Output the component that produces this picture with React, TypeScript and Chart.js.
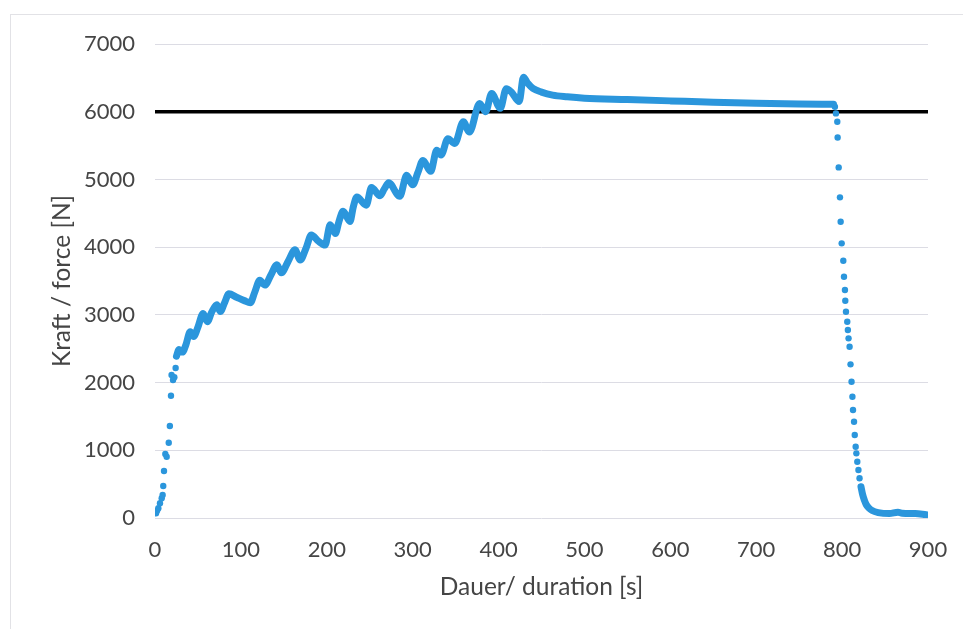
import React, { useEffect, useRef } from "react";
import { Chart, registerables } from "chart.js";

Chart.register(...registerables);

// Isolated samples during the fast load-up at the start
const startTime = [1.2, 2.5, 3.9, 5.8, 7.8, 8.9, 9.6, 10.5, 12, 13.6, 16, 17.3, 18.6, 19.3, 21, 22.5, 24];
const startForce = [69, 110, 143, 217, 291, 340, 473, 694, 945, 905, 1112, 1358, 1806, 2112, 2038, 2080, 2215];

// Continuous (densely sampled) loading / holding phase
const holdTime = [
  25, 28, 32, 36, 41, 45, 50, 56, 61, 66, 72, 76, 81, 86, 95, 104, 111, 116, 122, 128,
  135, 142, 147, 155, 163, 169, 176, 182, 190, 198, 204, 210, 214, 219, 227, 231, 235,
  246, 252, 262, 267, 272, 285, 293, 300, 306, 312, 321, 328, 333, 341, 349, 359, 366,
  378, 385, 392, 402, 409, 415, 424, 429, 434, 440, 450, 463, 480, 500, 550, 600, 650,
  700, 750, 790,
];
const holdForce = [
  2390, 2490, 2450, 2560, 2750, 2680, 2820, 3020, 2900, 3040, 3150, 3050, 3180, 3310, 3260,
  3210, 3180, 3330, 3510, 3440, 3590, 3740, 3620, 3790, 3960, 3810, 3990, 4180, 4090, 4030,
  4330, 4200, 4370, 4530, 4380, 4600, 4740, 4620, 4880, 4760, 4860, 4950, 4750, 5060, 4920,
  5100, 5280, 5120, 5430, 5360, 5600, 5530, 5850, 5700, 6120, 6000, 6270, 6050, 6340, 6290,
  6150, 6510, 6420, 6345, 6290, 6245, 6220, 6200, 6180, 6160, 6140, 6125, 6115, 6110,
];

// Isolated samples during unloading
const dropTime = [
  791.6, 792.8, 794.4, 794.8, 796, 797.5, 798.3, 799.5, 801.4, 802.2, 803.3, 803.7, 804.5,
  806, 806.7, 807.5, 808.7, 809.8, 811, 812, 812.7, 813.9, 814.7, 815.8, 816.6, 817.7, 819, 820.3,
];
const dropForce = [
  6073, 5975, 5851, 5620, 5178, 4735, 4375, 4056, 3799, 3563, 3366, 3208, 3046, 2898, 2776,
  2653, 2529, 2269, 2013, 1791, 1595, 1422, 1225, 1053, 955, 831, 709, 586,
];

// Continuous tail after unloading
const tailTime = [822, 824, 826, 828, 831, 835, 842, 855, 865, 870, 885, 898];
const tailForce = [462, 340, 260, 200, 150, 110, 80, 65, 85, 70, 65, 50];

// Reference line
const limitTime = [0, 900];
const limitForce = [6000, 6000];

const xTicks = [0, 100, 200, 300, 400, 500, 600, 700, 800, 900];
const yTicks = [0, 1000, 2000, 3000, 4000, 5000, 6000, 7000];

const BLUE = "#2b96dc";
const TEXT = "#454545";
const FONT = "Lato, 'Open Sans', sans-serif";

const pts = (xs: number[], ys: number[]) => xs.map((x, i) => ({ x, y: ys[i] }));

export default function App() {
  const ref = useRef<HTMLCanvasElement | null>(null);

  useEffect(() => {
    document.body.style.margin = "0";
    const canvas = ref.current;
    if (!canvas) return;
    const dotStyle = {
      showLine: false,
      pointRadius: 3.2,
      pointHoverRadius: 3.2,
      pointBackgroundColor: BLUE,
      pointBorderWidth: 0,
      borderColor: BLUE,
      backgroundColor: BLUE,
      order: 1,
    };
    const lineStyle = {
      showLine: true,
      pointRadius: 0,
      borderWidth: 7,
      borderColor: BLUE,
      backgroundColor: BLUE,
      borderCapStyle: "round" as const,
      borderJoinStyle: "round" as const,
      cubicInterpolationMode: "monotone" as const,
      order: 1,
    };
    const chart = new Chart(canvas, {
      type: "scatter",
      data: {
        datasets: [
          { label: "start", data: pts(startTime, startForce), ...dotStyle },
          { label: "hold", data: pts(holdTime, holdForce), ...lineStyle },
          { label: "drop", data: pts(dropTime, dropForce), ...dotStyle },
          { label: "tail", data: pts(tailTime, tailForce), ...lineStyle },
          {
            label: "limit",
            data: pts(limitTime, limitForce),
            showLine: true,
            pointRadius: 0,
            borderWidth: 3.5,
            borderColor: "#000000",
            order: 5,
          },
        ],
      },
      options: {
        animation: false,
        responsive: false,
        maintainAspectRatio: false,
        layout: { padding: { left: 10, top: 44, right: 35, bottom: 10 } },
        plugins: { legend: { display: false }, tooltip: { enabled: false } },
        scales: {
          x: {
            type: "linear",
            min: 0,
            max: 900,
            afterFit: (s: any) => {
              s.height = 101;
              s.paddingLeft = 0;
              s.paddingRight = 0;
            },
            afterBuildTicks: (s: any) => {
              s.ticks = xTicks.map((v) => ({ value: v }));
            },
            grid: { display: false, drawTicks: false },
            border: { display: false },
            ticks: {
              color: TEXT,
              font: { family: FONT, size: 22 },
              padding: 19,
              callback: (v: any) => String(v),
            },
            title: {
              display: true,
              text: "Dauer/ duration [s]",
              color: TEXT,
              font: { family: FONT, size: 24.5 },
              padding: { top: 0, bottom: 17 },
            },
          },
          y: {
            type: "linear",
            min: 0,
            max: 7000,
            afterFit: (s: any) => {
              s.width = 145;
            },
            afterBuildTicks: (s: any) => {
              s.ticks = yTicks.map((v) => ({ value: v }));
            },
            grid: { color: "#dcdce4", lineWidth: 1, drawTicks: false },
            border: { display: false },
            ticks: {
              color: TEXT,
              font: { family: FONT, size: 22 },
              padding: 20,
              callback: (v: any) => String(v),
            },
            title: {
              display: true,
              text: "Kraft / force [N]",
              color: TEXT,
              font: { family: FONT, size: 24.5 },
              padding: { top: 37, bottom: 0 },
            },
          },
        },
      },
    });
    return () => chart.destroy();
  }, []);

  return (
    <div style={{ position: "relative", width: 963, height: 629, background: "#ffffff", overflow: "hidden" }}>
      <div
        style={{
          position: "absolute",
          left: 10,
          top: 14,
          width: 1000,
          height: 700,
          borderLeft: "1px solid #e2e2e6",
          borderTop: "1px solid #e2e2e6",
        }}
      />
      <canvas ref={ref} width={963} height={629} style={{ position: "absolute", left: 0, top: 0 }} />
    </div>
  );
}
